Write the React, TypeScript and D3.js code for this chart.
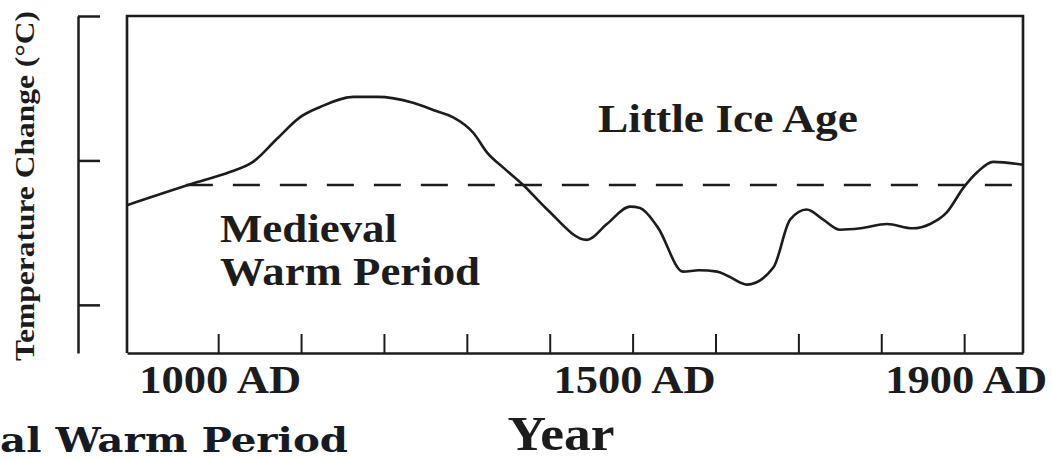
import React, { useEffect, useRef } from "react";
import * as d3 from "d3";

// Reconstructed temperature curve (relative units; left-axis ticks at +1, 0, -1)
const years = [890, 975, 1014, 1042, 1071, 1099, 1123, 1163, 1192, 1235, 1264, 1283, 1308, 1325, 1344, 1368, 1397, 1445, 1469, 1497, 1509, 1530, 1561, 1580, 1602, 1615, 1638, 1670, 1690, 1710, 1730, 1750, 1775, 1807, 1838, 1859, 1879, 1899, 1916, 1935, 1971];
const temps = [-0.31, -0.15, -0.08, -0.01, 0.15, 0.3, 0.37, 0.44, 0.44, 0.4, 0.34, 0.3, 0.19, 0.05, -0.05, -0.17, -0.34, -0.55, -0.44, -0.32, -0.33, -0.46, -0.77, -0.76, -0.77, -0.8, -0.86, -0.74, -0.41, -0.34, -0.41, -0.48, -0.47, -0.44, -0.47, -0.44, -0.36, -0.19, -0.08, -0.01, -0.03];

const referenceLevel = -0.17; // dashed "early 20th century" level
const referenceStart = 961;

const xTickYears = [1000, 1100, 1200, 1300, 1400, 1500, 1600, 1700, 1800, 1900];
const xLabelYears = [1000, 1500, 1900];
const xLabelTexts = ["1000 AD", "1500 AD", "1900 AD"];
const yTickValues = [1, 0, -1];

const W = 1052;
const H = 459;
const FONT = "'Liberation Serif', 'Times New Roman', serif";
const INK = "#1c1c1c";

export default function App() {
  const ref = useRef<SVGSVGElement | null>(null);

  useEffect(() => {
    const svg = d3.select(ref.current);
    svg.selectAll("*").remove();

    const left = 127, right = 1023, top = 16, bottom = 353;
    const x = d3.scaleLinear().domain([890, 1971]).range([left, right]);
    const y = d3.scaleLinear().domain([-1.3333, 1]).range([bottom, top]);

    svg.append("rect").attr("width", W).attr("height", H).attr("fill", "#fff");

    // Y-axis title
    svg.append("text")
      .attr("transform", `translate(34, ${186}) rotate(-90)`)
      .attr("text-anchor", "middle")
      .attr("font-family", FONT)
      .attr("font-weight", "bold")
      .attr("font-size", 28)
      .attr("fill", INK)
      .attr("textLength", 350)
      .attr("lengthAdjust", "spacingAndGlyphs")
      .text("Temperature Change (°C)");

    // Left bracket axis
    const yAxis = d3.axisRight(y).tickValues(yTickValues).tickSize(22).tickSizeOuter(0).tickFormat(() => "");
    const ya = svg.append("g").attr("transform", "translate(78,0)").call(yAxis);
    ya.select(".domain").attr("stroke", INK).attr("stroke-width", 2.5);
    ya.selectAll(".tick line").attr("stroke", INK).attr("stroke-width", 2.5);

    // Plot frame (top, left, right)
    svg.append("path")
      .attr("d", `M${left},${bottom} V${top} H${right} V${bottom}`)
      .attr("fill", "none")
      .attr("stroke", INK)
      .attr("stroke-width", 2.6);

    // Bottom axis with inward ticks
    const xAxis = d3.axisTop(x).tickValues(xTickYears).tickSize(19).tickSizeOuter(0).tickFormat(() => "");
    const xa = svg.append("g").attr("transform", `translate(0,${bottom})`).call(xAxis);
    xa.select(".domain").attr("stroke", INK).attr("stroke-width", 2.6);
    xa.selectAll(".tick line").attr("stroke", INK).attr("stroke-width", 2);

    // Tick labels
    svg.append("g")
      .selectAll("text")
      .data(xLabelYears)
      .join("text")
      .attr("x", (d) => x(d) + 2)
      .attr("y", 393)
      .attr("text-anchor", "middle")
      .attr("font-family", FONT)
      .attr("font-weight", "bold")
      .attr("font-size", 40)
      .attr("fill", INK)
      .attr("textLength", 162)
      .attr("lengthAdjust", "spacingAndGlyphs")
      .text((_, i) => xLabelTexts[i]);

    // Dashed reference line
    svg.append("line")
      .attr("x1", x(referenceStart))
      .attr("x2", x(1971))
      .attr("y1", y(referenceLevel))
      .attr("y2", y(referenceLevel))
      .attr("stroke", INK)
      .attr("stroke-width", 2.4)
      .attr("stroke-dasharray", "27 20");

    // Temperature curve
    const pts = years.map((yr, i) => [yr, temps[i]] as [number, number]);
    const line = d3.line<[number, number]>()
      .x((d) => x(d[0]))
      .y((d) => y(d[1]))
      .curve(d3.curveMonotoneX);
    svg.append("path")
      .datum(pts)
      .attr("d", line)
      .attr("fill", "none")
      .attr("stroke", INK)
      .attr("stroke-width", 2.6)
      .attr("stroke-linejoin", "round");

    // In-plot annotations
    const ann = (t: string, xx: number, yy: number, len: number) =>
      svg.append("text")
        .attr("x", xx)
        .attr("y", yy)
        .attr("font-family", FONT)
        .attr("font-weight", "bold")
        .attr("font-size", 40)
        .attr("fill", INK)
        .attr("textLength", len)
        .attr("lengthAdjust", "spacingAndGlyphs")
        .text(t);
    ann("Little Ice Age", 598, 132, 260);
    ann("Medieval", 220, 242, 177);
    ann("Warm Period", 220, 285, 260);

    // X-axis title
    svg.append("text")
      .attr("x", 561)
      .attr("y", 450)
      .attr("text-anchor", "middle")
      .attr("font-family", FONT)
      .attr("font-weight", "bold")
      .attr("font-size", 48)
      .attr("fill", INK)
      .attr("textLength", 107)
      .attr("lengthAdjust", "spacingAndGlyphs")
      .text("Year");

    // Cropped caption at the bottom-left
    svg.append("text")
      .attr("x", 0)
      .attr("y", 452)
      .attr("font-family", "'DejaVu Serif', Georgia, serif")
      .attr("font-weight", "bold")
      .attr("font-size", 34)
      .attr("fill", "#151a24")
      .attr("textLength", 348)
      .attr("lengthAdjust", "spacingAndGlyphs")
      .text("al Warm Period");
  }, []);

  return (
    <svg
      ref={ref}
      width={W}
      height={H}
      style={{ position: "absolute", left: 0, top: 0, display: "block" }}
    />
  );
}
